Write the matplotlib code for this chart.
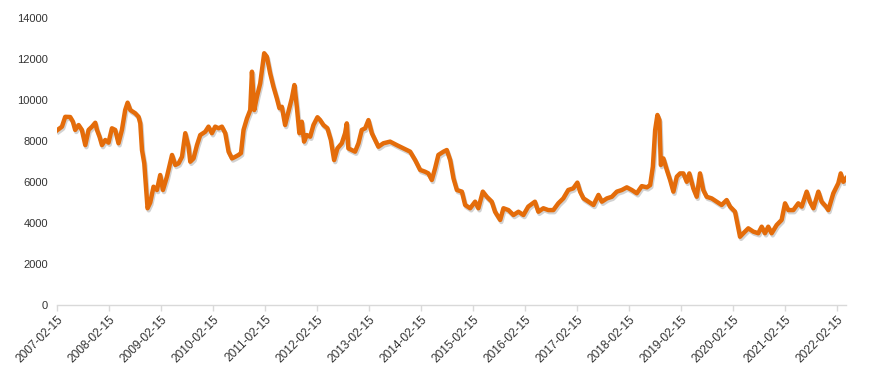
import matplotlib
matplotlib.use("Agg")
import matplotlib.pyplot as plt
import matplotlib.dates as mdates
import matplotlib.patheffects as pe
import pandas as pd

plt.rcParams['font.family'] = ['Liberation Sans', 'DejaVu Sans']

dates = [
    "2007-02-19", "2007-03-22", "2007-04-14", "2007-05-19", "2007-06-07", "2007-06-23",
    "2007-07-17", "2007-08-09", "2007-09-02", "2007-09-25", "2007-10-19", "2007-11-11",
    "2007-11-23", "2007-12-11", "2007-12-28", "2008-01-20", "2008-02-12", "2008-03-07",
    "2008-03-30", "2008-04-22", "2008-05-16", "2008-06-08", "2008-06-25", "2008-07-14",
    "2008-08-18", "2008-09-10", "2008-09-22", "2008-10-04", "2008-10-20", "2008-11-03",
    "2008-11-12", "2008-12-01", "2008-12-24", "2009-01-17", "2009-02-09", "2009-02-28",
    "2009-03-28", "2009-05-03", "2009-05-26", "2009-06-18", "2009-07-12", "2009-08-04",
    "2009-08-27", "2009-09-08", "2009-10-01", "2009-10-25", "2009-11-17", "2009-12-22",
    "2010-01-14", "2010-02-07", "2010-03-02", "2010-03-26", "2010-04-18", "2010-05-12",
    "2010-06-04", "2010-06-28", "2010-07-21", "2010-08-13", "2010-08-30", "2010-09-17",
    "2010-10-11", "2010-11-03", "2010-11-15", "2010-12-01", "2010-12-20", "2011-01-12",
    "2011-02-09", "2011-02-28", "2011-03-23", "2011-04-15", "2011-05-09", "2011-05-27",
    "2011-06-13", "2011-07-06", "2011-07-29", "2011-08-22", "2011-09-09", "2011-09-26",
    "2011-10-14", "2011-10-31", "2011-11-16", "2011-12-05", "2011-12-29", "2012-01-21",
    "2012-02-18", "2012-03-08", "2012-03-31", "2012-04-28", "2012-05-22", "2012-06-14",
    "2012-07-07", "2012-08-07", "2012-08-30", "2012-09-11", "2012-09-22", "2012-10-16",
    "2012-11-08", "2012-12-02", "2012-12-25", "2013-01-18", "2013-02-10", "2013-03-06",
    "2013-03-29", "2013-04-21", "2013-05-26", "2013-07-12", "2013-08-28", "2013-10-14",
    "2013-11-30", "2014-01-04", "2014-02-08", "2014-03-15", "2014-04-07", "2014-05-01",
    "2014-05-24", "2014-06-16", "2014-07-22", "2014-08-14", "2014-09-07", "2014-09-30",
    "2014-10-24", "2014-11-28", "2014-12-21", "2015-01-25", "2015-03-01", "2015-03-24",
    "2015-04-24", "2015-05-22", "2015-06-26", "2015-07-19", "2015-08-24", "2015-09-16",
    "2015-10-21", "2015-11-25", "2015-12-30", "2016-02-03", "2016-03-08", "2016-04-24",
    "2016-05-18", "2016-06-22", "2016-07-27", "2016-08-31", "2016-10-05", "2016-11-09",
    "2016-12-14", "2017-01-18", "2017-02-16", "2017-03-07", "2017-03-31", "2017-05-05",
    "2017-06-09", "2017-07-14", "2017-08-07", "2017-09-11", "2017-10-16", "2017-11-20",
    "2017-12-25", "2018-01-29", "2018-03-05", "2018-04-09", "2018-05-14", "2018-06-19",
    "2018-07-12", "2018-07-31", "2018-08-16", "2018-09-01", "2018-09-15", "2018-09-25",
    "2018-10-13", "2018-11-06", "2018-11-29", "2018-12-22", "2019-01-15", "2019-02-07",
    "2019-03-02", "2019-03-26", "2019-04-13", "2019-05-11", "2019-06-04", "2019-06-27",
    "2019-07-20", "2019-08-13", "2019-09-17", "2019-10-22", "2019-11-26", "2019-12-31",
    "2020-01-24", "2020-02-28", "2020-03-15", "2020-04-03", "2020-04-26", "2020-05-31",
    "2020-07-05", "2020-08-09", "2020-09-02", "2020-09-25", "2020-10-18", "2020-11-11",
    "2020-12-16", "2021-01-20", "2021-02-13", "2021-03-08", "2021-04-12", "2021-05-17",
    "2021-06-10", "2021-07-15", "2021-08-07", "2021-08-31", "2021-10-05", "2021-10-28",
    "2021-11-28", "2021-12-14", "2022-01-18", "2022-02-22", "2022-03-11", "2022-03-29",
    "2022-04-17",
]

values = [
    8540, 8700, 9180, 9170, 8940, 8540,
    8780, 8540, 7800, 8540, 8700, 8890,
    8540, 8210, 7800, 8050, 7920, 8620,
    8540, 7890, 8540, 9510, 9870, 9510,
    9350, 9180, 8860, 7560, 6910, 5610,
    4720, 5000, 5770, 5610, 6340, 5610,
    6260, 7320, 6830, 6910, 7230, 8380,
    7720, 6990, 7150, 7800, 8290, 8450,
    8700, 8380, 8700, 8620, 8700, 8380,
    7480, 7150, 7230, 7320, 7410, 8540,
    9100, 9510, 11380, 9510, 10160, 10810,
    12280, 12110, 11300, 10650, 10080, 9600,
    9670, 8780, 9430, 10080, 10730, 9670,
    8380, 8940, 7970, 8290, 8210, 8780,
    9160, 9020, 8780, 8620, 8050, 7070,
    7640, 7890, 8380, 8860, 7640, 7560,
    7480, 7890, 8540, 8620, 9020, 8380,
    8050, 7720, 7890, 7970, 7800, 7640,
    7480, 7070, 6590, 6500, 6420, 6100,
    6670, 7320, 7480, 7560, 7070, 6180,
    5610, 5530, 4880, 4720, 5040, 4720,
    5530, 5280, 5040, 4550, 4150, 4720,
    4630, 4390, 4550, 4390, 4800, 5040,
    4550, 4720, 4630, 4630, 4960, 5200,
    5610, 5690, 5970, 5530, 5200, 5040,
    4880, 5370, 5040, 5200, 5280, 5530,
    5610, 5740, 5610, 5450, 5800, 5740,
    5850, 6750, 8540, 9270, 9020, 6830,
    7150, 6590, 6100, 5530, 6260, 6420,
    6420, 6010, 6420, 5690, 5280, 6420,
    5610, 5280, 5200, 5040, 4880, 5120,
    4800, 4550, 3990, 3330, 3500, 3740,
    3580, 3500, 3820, 3500, 3820, 3500,
    3900, 4150, 4960, 4630, 4630, 4960,
    4800, 5530, 5040, 4720, 5530, 5040,
    4800, 4630, 5450, 5940, 6420, 6010,
    6180,
]

tick_dates = [f"{y}-02-15" for y in range(2007, 2023)]
x_start = "2007-02-15"
x_end = "2022-04-17"

x = pd.to_datetime(dates)

fig = plt.figure(figsize=(8.71, 3.86), dpi=100)
ax = fig.add_axes([0.0654, 0.2098, 0.9059, 0.7436])

ax.plot(x, values, color="#E46C0A", linewidth=3.2, solid_joinstyle="round",
        path_effects=[pe.SimpleLineShadow(offset=(0.8, -1.5), shadow_color="gray", alpha=0.35),
                      pe.Normal()])

ax.set_ylim(0, 14000)
ax.set_yticks(range(0, 14001, 2000))
ax.set_xlim(pd.Timestamp(x_start), pd.Timestamp(x_end))
ax.set_xticks(pd.to_datetime(tick_dates))
ax.xaxis.set_major_formatter(mdates.DateFormatter("%Y-%m-%d"))

for s in ["top", "right", "left"]:
    ax.spines[s].set_visible(False)
ax.spines["bottom"].set_color("#d9d9d9")
ax.spines["bottom"].set_linewidth(1.0)

ax.tick_params(axis="y", length=0, pad=6.5, labelsize=8, labelcolor="#333333")
ax.tick_params(axis="x", length=4, width=1, color="#d9d9d9", pad=2,
               labelsize=8.6, labelcolor="#333333")
for lab in ax.get_xticklabels():
    lab.set_rotation(45)
    lab.set_ha("right")
    lab.set_va("top")
    lab.set_rotation_mode("anchor")

fig.savefig("out.png", dpi=100)
